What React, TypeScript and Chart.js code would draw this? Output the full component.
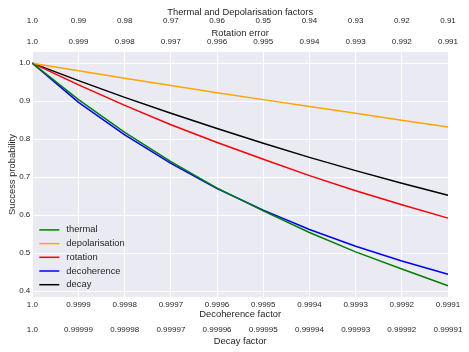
import React, { useEffect, useRef } from "react";
import { Chart, registerables } from "chart.js";

Chart.register(...registerables);

// Tick labels of the four x axes (same 10 positions)
const decoherenceTicks = ["1.0", "0.9999", "0.9998", "0.9997", "0.9996", "0.9995", "0.9994", "0.9993", "0.9992", "0.9991"];
const decayTicks = ["1.0", "0.99999", "0.99998", "0.99997", "0.99996", "0.99995", "0.99994", "0.99993", "0.99992", "0.99991"];
const thermalDepolTicks = ["1.0", "0.99", "0.98", "0.97", "0.96", "0.95", "0.94", "0.93", "0.92", "0.91"];
const rotationTicks = ["1.0", "0.999", "0.998", "0.997", "0.996", "0.995", "0.994", "0.993", "0.992", "0.991"];
const yTicks = [0.4, 0.5, 0.6, 0.7, 0.8, 0.9, 1.0];

// Series values (success probability)
const thermal = [1.0, 0.904, 0.818, 0.741, 0.671, 0.611, 0.554, 0.503, 0.458, 0.414];
const depolarisation = [1.0, 0.98, 0.96, 0.941, 0.922, 0.904, 0.886, 0.868, 0.85, 0.832];
const rotation = [1.0, 0.943, 0.889, 0.838, 0.791, 0.747, 0.704, 0.664, 0.627, 0.592];
const decoherence = [1.0, 0.897, 0.811, 0.736, 0.67, 0.613, 0.562, 0.518, 0.479, 0.444];
const decay = [1.0, 0.954, 0.91, 0.868, 0.828, 0.789, 0.752, 0.717, 0.684, 0.652];

const FONT = "'Liberation Sans', Arial, sans-serif";
const TEXT = "#262626";
const TICK_SIZE = 8;
const TITLE_SIZE = 9.4;

const bgPlugin = {
  id: "bgPlugin",
  beforeDraw(chart: any) {
    const { ctx, chartArea } = chart;
    ctx.save();
    ctx.fillStyle = "#EAEAF2";
    ctx.fillRect(chartArea.left, chartArea.top, chartArea.right - chartArea.left, chartArea.bottom - chartArea.top);
    ctx.restore();
  },
};

const legendPlugin = {
  id: "innerLegend",
  afterDatasetsDraw(chart: any) {
    const { ctx, chartArea } = chart;
    const ds = chart.data.datasets;
    const rowH = 13.7;
    const x0 = chartArea.left + 7;
    const yLast = chartArea.bottom - 12.3;
    ctx.save();
    ctx.font = `${TITLE_SIZE}px ${FONT}`;
    ctx.textBaseline = "middle";
    ctx.textAlign = "left";
    ds.forEach((d: any, i: number) => {
      const y = yLast - (ds.length - 1 - i) * rowH;
      ctx.strokeStyle = d.borderColor;
      ctx.lineWidth = 1.5;
      ctx.beginPath();
      ctx.moveTo(x0, y);
      ctx.lineTo(x0 + 20, y);
      ctx.stroke();
      ctx.fillStyle = TEXT;
      ctx.fillText(d.label, x0 + 27, y);
    });
    ctx.restore();
  },
};

function xAxis(position: string, labels: string[], title: string, showGrid: boolean, weight: number, titlePad: any, tickLen: number) {
  return {
    type: "category",
    position,
    labels,
    offset: false,
    weight,
    grid: {
      display: showGrid,
      color: "#FFFFFF",
      lineWidth: 1,
      drawTicks: tickLen > 0,
      tickLength: tickLen,
    },
    border: { display: false },
    ticks: {
      color: TEXT,
      font: { family: FONT, size: TICK_SIZE, lineHeight: 1 },
      padding: 0,
      maxRotation: 0,
      autoSkip: false,
    },
    title: {
      display: true,
      text: title,
      color: TEXT,
      font: { family: FONT, size: TITLE_SIZE, lineHeight: 1 },
      padding: titlePad,
    },
  };
}

export default function App() {
  const ref = useRef<HTMLCanvasElement>(null);
  useEffect(() => {
    if (!ref.current) return;
    const chart = new Chart(ref.current, {
      type: "line",
      data: {
        labels: decoherenceTicks,
        datasets: [
          { label: "thermal", data: thermal, borderColor: "#008000" },
          { label: "depolarisation", data: depolarisation, borderColor: "#FFA500" },
          { label: "rotation", data: rotation, borderColor: "#FF0000" },
          { label: "decoherence", data: decoherence, borderColor: "#0000FF" },
          { label: "decay", data: decay, borderColor: "#000000" },
        ].map((d) => ({ ...d, borderWidth: 1.5, pointRadius: 0, fill: false, tension: 0, xAxisID: "x", yAxisID: "y" })),
      },
      options: {
        animation: false,
        responsive: false,
        maintainAspectRatio: false,
        layout: { padding: { left: 0, right: 21, top: 0, bottom: 0 } },
        plugins: { legend: { display: false }, tooltip: { enabled: false } },
        scales: {
          x: xAxis("bottom", decoherenceTicks, "Decoherence factor", true, 1, { top: 0.8, bottom: 0 }, 4),
          x2: xAxis("bottom", decayTicks, "Decay factor", false, 2, { top: 2.8, bottom: 6.3 }, 6.3),
          x3: xAxis("top", rotationTicks, "Rotation error", false, 1, { top: 3.65, bottom: 0 }, 6.3),
          x4: xAxis("top", thermalDepolTicks, "Thermal and Depolarisation factors", false, 2, { top: 7.25, bottom: 0 }, 0),
          y: {
            type: "linear",
            position: "left",
            min: 0.3843,
            max: 1.0294,
            afterBuildTicks: (axis: any) => {
              axis.ticks = yTicks.map((v) => ({ value: v }));
            },
            grid: { color: "#FFFFFF", lineWidth: 1, drawTicks: false },
            border: { display: false },
            ticks: {
              color: TEXT,
              font: { family: FONT, size: TICK_SIZE },
              padding: 2,
              callback: (v: any) => Number(v).toFixed(1),
            },
            title: {
              display: true,
              text: "Success probability",
              color: TEXT,
              font: { family: FONT, size: TITLE_SIZE, lineHeight: 1 },
              padding: { top: 7.3, bottom: 0.5 },
            },
          },
        } as any,
      },
      plugins: [bgPlugin, legendPlugin],
    } as any);
    return () => chart.destroy();
  }, []);
  return (
    <div style={{ position: "fixed", left: 0, top: 0, width: 469, height: 352, background: "#fff" }}>
      <canvas ref={ref} width={469} height={352} style={{ display: "block" }} />
    </div>
  );
}
